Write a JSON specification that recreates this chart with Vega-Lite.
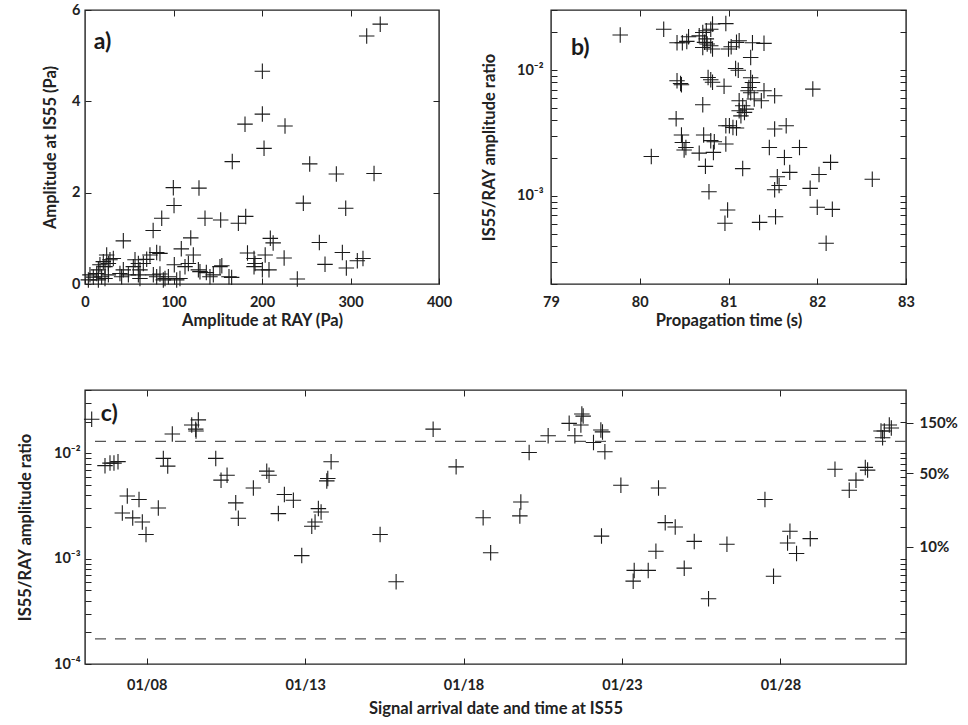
{
  "$schema": "https://vega.github.io/schema/vega-lite/v6.json",
  "background": "white",
  "padding": {"left": 16, "top": 1, "right": 4, "bottom": 2},
  "config": {
    "font": "Lato",
    "view": {"stroke": "#222", "strokeWidth": 1.4},
    "axis": {
      "grid": false, "domain": false, "tickColor": "#222", "tickSize": -6, "tickWidth": 1,
      "labelFont": "Lato", "labelFontSize": 14.5, "labelFontWeight": "bold", "labelColor": "#222",
      "labelFlush": false, "labelOverlap": false,
      "titleFont": "Lato", "titleFontSize": 16.5, "titleFontWeight": "bold", "titleColor": "#222"
    },
    "text": {"font": "Lato"}
  },
  "spacing": 51,
  "vconcat": [
    {
      "spacing": 112,
      "bounds": "flush",
      "hconcat": [
        {
          "width": 354, "height": 274,
          "data": {"values": [
            {"ray": 333.6, "is55": 5.69}, {"ray": 318.3, "is55": 5.43}, {"ray": 200.4, "is55": 4.66}, {"ray": 200.4, "is55": 3.72},
            {"ray": 180.8, "is55": 3.5}, {"ray": 226.0, "is55": 3.46}, {"ray": 202.3, "is55": 2.97}, {"ray": 166.4, "is55": 2.68},
            {"ray": 253.9, "is55": 2.63}, {"ray": 284.0, "is55": 2.41}, {"ray": 326.6, "is55": 2.42}, {"ray": 99.8, "is55": 2.11},
            {"ray": 128.8, "is55": 2.1}, {"ray": 246.7, "is55": 1.77}, {"ray": 100.6, "is55": 1.72}, {"ray": 294.6, "is55": 1.66},
            {"ray": 86.7, "is55": 1.44}, {"ray": 135.6, "is55": 1.44}, {"ray": 153.3, "is55": 1.4}, {"ray": 173.3, "is55": 1.33},
            {"ray": 181.6, "is55": 1.48}, {"ray": 77.0, "is55": 1.17}, {"ray": 119.5, "is55": 1.01}, {"ray": 43.3, "is55": 0.945},
            {"ray": 108.8, "is55": 0.77}, {"ray": 209.4, "is55": 1.0}, {"ray": 212.6, "is55": 0.9}, {"ray": 264.8, "is55": 0.91},
            {"ray": 81.0, "is55": 0.69}, {"ray": 84.7, "is55": 0.67}, {"ray": 122.4, "is55": 0.635}, {"ray": 183.6, "is55": 0.68},
            {"ray": 191.0, "is55": 0.56}, {"ray": 203.6, "is55": 0.635}, {"ray": 225.0, "is55": 0.57}, {"ray": 290.8, "is55": 0.69},
            {"ray": 307.7, "is55": 0.51}, {"ray": 314.1, "is55": 0.56}, {"ray": 271.2, "is55": 0.43}, {"ray": 192.1, "is55": 0.45},
            {"ray": 191.0, "is55": 0.38}, {"ray": 295.3, "is55": 0.35}, {"ray": 239.9, "is55": 0.11}, {"ray": 152.5, "is55": 0.38},
            {"ray": 154.6, "is55": 0.4}, {"ray": 137.1, "is55": 0.25}, {"ray": 141.2, "is55": 0.16}, {"ray": 145.0, "is55": 0.2},
            {"ray": 162.7, "is55": 0.16}, {"ray": 165.7, "is55": 0.145}, {"ray": 200.4, "is55": 0.31}, {"ray": 207.9, "is55": 0.31},
            {"ray": 100.9, "is55": 0.42}, {"ray": 113.0, "is55": 0.38}, {"ray": 116.8, "is55": 0.45}, {"ray": 128.1, "is55": 0.31},
            {"ray": 129.9, "is55": 0.27}, {"ray": 24.5, "is55": 0.635}, {"ray": 28.2, "is55": 0.53}, {"ray": 32.0, "is55": 0.56},
            {"ray": 20.7, "is55": 0.49}, {"ray": 26.4, "is55": 0.45}, {"ray": 22.6, "is55": 0.38}, {"ray": 16.9, "is55": 0.42},
            {"ray": 15.1, "is55": 0.31}, {"ray": 13.2, "is55": 0.23}, {"ray": 18.8, "is55": 0.16}, {"ray": 22.6, "is55": 0.12},
            {"ray": 15.1, "is55": 0.09}, {"ray": 26.4, "is55": 0.2}, {"ray": 5.6, "is55": 0.2}, {"ray": 9.4, "is55": 0.15},
            {"ray": 3.8, "is55": 0.09}, {"ray": 56.5, "is55": 0.53}, {"ray": 60.3, "is55": 0.45}, {"ray": 54.6, "is55": 0.38},
            {"ray": 65.9, "is55": 0.45}, {"ray": 69.7, "is55": 0.54}, {"ray": 73.4, "is55": 0.635}, {"ray": 39.5, "is55": 0.23},
            {"ray": 43.3, "is55": 0.31}, {"ray": 49.0, "is55": 0.2}, {"ray": 41.4, "is55": 0.16}, {"ray": 62.1, "is55": 0.31},
            {"ray": 60.3, "is55": 0.2}, {"ray": 62.1, "is55": 0.12}, {"ray": 77.2, "is55": 0.2}, {"ray": 81.0, "is55": 0.16},
            {"ray": 84.7, "is55": 0.22}, {"ray": 88.5, "is55": 0.09}, {"ray": 94.2, "is55": 0.16}, {"ray": 90.4, "is55": 0.12},
            {"ray": 103.6, "is55": 0.09}, {"ray": 107.3, "is55": 0.12}
          ]},
          "layer": [
            {
              "mark": {"type": "point", "shape": "M-1,0L1,0M0,-1L0,1", "size": 240, "filled": false, "stroke": "#1a1a1a", "strokeWidth": 1.1, "opacity": 1},
              "encoding": {
                "x": {"field": "ray", "type": "quantitative", "scale": {"domain": [0, 400], "nice": false, "zero": false},
                      "axis": {"title": "Amplitude at RAY (Pa)", "values": [0, 100, 200, 300, 400], "labelPadding": 17, "titlePadding": 4}},
                "y": {"field": "is55", "type": "quantitative", "scale": {"domain": [0, 6], "nice": false},
                      "axis": {"title": "Amplitude at IS55 (Pa)", "values": [0, 2, 4, 6], "labelPadding": 11, "titlePadding": 13}}
              }
            },
            {
              "mark": {"type": "point", "opacity": 0},
              "encoding": {
                "x": {"field": "ray", "type": "quantitative", "axis": {"orient": "top", "labels": false, "title": null, "values": [100, 200, 300]}},
                "y": {"field": "is55", "type": "quantitative", "axis": {"orient": "right", "labels": false, "title": null, "values": [2, 4]}}
              }
            },
            {
              "data": {"values": [{}]},
              "mark": {"type": "text", "text": "a)", "align": "left", "baseline": "middle", "fontSize": 23, "fontWeight": "bold", "color": "#1a1a1a"},
              "encoding": {
                "x": {"datum": 10, "type": "quantitative", "axis": null},
                "y": {"datum": 5.31, "type": "quantitative", "axis": null}
              }
            }
          ],
          "resolve": {"axis": {"x": "independent", "y": "independent"}}
        },
        {
          "width": 355, "height": 274,
          "data": {"values": [
            {"t": 79.78, "ratio": 0.019}, {"t": 80.27, "ratio": 0.0211}, {"t": 80.42, "ratio": 0.0165}, {"t": 80.48, "ratio": 0.0165},
            {"t": 80.53, "ratio": 0.0169}, {"t": 80.55, "ratio": 0.0184}, {"t": 80.67, "ratio": 0.0187}, {"t": 80.71, "ratio": 0.0199},
            {"t": 80.75, "ratio": 0.0205}, {"t": 80.8, "ratio": 0.0211}, {"t": 80.82, "ratio": 0.0232}, {"t": 80.73, "ratio": 0.0166},
            {"t": 80.76, "ratio": 0.0161}, {"t": 80.71, "ratio": 0.0151}, {"t": 80.8, "ratio": 0.0156}, {"t": 80.82, "ratio": 0.0147},
            {"t": 80.75, "ratio": 0.0177}, {"t": 80.97, "ratio": 0.0234}, {"t": 81.0, "ratio": 0.0147}, {"t": 81.03, "ratio": 0.0153},
            {"t": 81.09, "ratio": 0.0166}, {"t": 81.12, "ratio": 0.0171}, {"t": 81.27, "ratio": 0.0165}, {"t": 81.4, "ratio": 0.0163},
            {"t": 81.25, "ratio": 0.0126}, {"t": 81.08, "ratio": 0.0103}, {"t": 81.11, "ratio": 0.00996}, {"t": 80.42, "ratio": 0.00822},
            {"t": 80.46, "ratio": 0.00783}, {"t": 80.47, "ratio": 0.00764}, {"t": 80.77, "ratio": 0.00873}, {"t": 80.8, "ratio": 0.00838},
            {"t": 80.82, "ratio": 0.008}, {"t": 80.95, "ratio": 0.00743}, {"t": 81.25, "ratio": 0.00869}, {"t": 81.27, "ratio": 0.00797},
            {"t": 81.23, "ratio": 0.00728}, {"t": 81.22, "ratio": 0.00685}, {"t": 81.25, "ratio": 0.00661}, {"t": 81.4, "ratio": 0.00685},
            {"t": 81.52, "ratio": 0.00625}, {"t": 81.37, "ratio": 0.0057}, {"t": 81.29, "ratio": 0.00589}, {"t": 81.95, "ratio": 0.00706},
            {"t": 80.71, "ratio": 0.00531}, {"t": 81.12, "ratio": 0.0057}, {"t": 81.16, "ratio": 0.00521}, {"t": 81.12, "ratio": 0.00475},
            {"t": 81.18, "ratio": 0.00461}, {"t": 81.14, "ratio": 0.00433}, {"t": 81.2, "ratio": 0.0049}, {"t": 80.41, "ratio": 0.0041},
            {"t": 80.97, "ratio": 0.00361}, {"t": 81.01, "ratio": 0.00361}, {"t": 81.05, "ratio": 0.0035}, {"t": 81.09, "ratio": 0.00347},
            {"t": 81.52, "ratio": 0.0034}, {"t": 81.65, "ratio": 0.00361}, {"t": 80.47, "ratio": 0.00305}, {"t": 80.48, "ratio": 0.00266},
            {"t": 80.52, "ratio": 0.00243}, {"t": 80.5, "ratio": 0.00232}, {"t": 80.72, "ratio": 0.00305}, {"t": 80.8, "ratio": 0.00275},
            {"t": 80.84, "ratio": 0.0027}, {"t": 80.97, "ratio": 0.00259}, {"t": 80.83, "ratio": 0.00222}, {"t": 80.67, "ratio": 0.00219},
            {"t": 80.13, "ratio": 0.00206}, {"t": 81.46, "ratio": 0.00243}, {"t": 81.8, "ratio": 0.00243}, {"t": 81.63, "ratio": 0.00202},
            {"t": 80.74, "ratio": 0.00172}, {"t": 81.16, "ratio": 0.00165}, {"t": 81.55, "ratio": 0.00142}, {"t": 81.69, "ratio": 0.00154},
            {"t": 81.57, "ratio": 0.00121}, {"t": 81.52, "ratio": 0.00112}, {"t": 82.15, "ratio": 0.00185}, {"t": 82.02, "ratio": 0.00148},
            {"t": 81.92, "ratio": 0.00115}, {"t": 82.62, "ratio": 0.00136}, {"t": 80.78, "ratio": 0.00108}, {"t": 80.99, "ratio": 0.000774},
            {"t": 80.96, "ratio": 0.000607}, {"t": 81.35, "ratio": 0.000617}, {"t": 81.53, "ratio": 0.000685}, {"t": 82.0, "ratio": 0.000815},
            {"t": 82.17, "ratio": 0.000783}, {"t": 82.1, "ratio": 0.000421}
          ]},
          "layer": [
            {
              "mark": {"type": "point", "shape": "M-1,0L1,0M0,-1L0,1", "size": 240, "filled": false, "stroke": "#1a1a1a", "strokeWidth": 1.1, "opacity": 1},
              "encoding": {
                "x": {"field": "t", "type": "quantitative", "scale": {"domain": [79, 83], "nice": false, "zero": false},
                      "axis": {"title": "Propagation time (s)", "values": [79, 80, 81, 82, 83], "labelPadding": 17, "titlePadding": 4}},
                "y": {"field": "ratio", "type": "quantitative", "scale": {"type": "log", "domain": [0.0002, 0.03], "nice": false},
                      "axis": {"title": "IS55/RAY amplitude ratio", "titlePadding": 19, "labelPadding": 14,
                               "values": [0.0002, 0.0003, 0.0004, 0.0005, 0.0006, 0.0007, 0.0008, 0.0009, 0.001, 0.002, 0.003, 0.004, 0.005, 0.006, 0.007, 0.008, 0.009, 0.01, 0.02, 0.03],
                               "labelExpr": "datum.value === 0.01 ? '10⁻²' : datum.value === 0.001 ? '10⁻³' : ''"}}
              }
            },
            {
              "mark": {"type": "point", "opacity": 0},
              "encoding": {
                "x": {"field": "t", "type": "quantitative", "axis": {"orient": "top", "labels": false, "title": null, "values": [80, 81, 82]}},
                "y": {"field": "ratio", "type": "quantitative", "axis": {"orient": "right", "labels": false, "title": null,
                      "values": [0.0002, 0.0003, 0.0004, 0.0005, 0.0006, 0.0007, 0.0008, 0.0009, 0.001, 0.002, 0.003, 0.004, 0.005, 0.006, 0.007, 0.008, 0.009, 0.01, 0.02, 0.03]}}
              }
            },
            {
              "data": {"values": [{}]},
              "mark": {"type": "text", "text": "b)", "align": "left", "baseline": "middle", "fontSize": 23, "fontWeight": "bold", "color": "#1a1a1a"},
              "encoding": {
                "x": {"datum": 79.225, "type": "quantitative", "axis": null},
                "y": {"datum": 0.0151, "type": "quantitative", "axis": null}
              }
            }
          ],
          "resolve": {"axis": {"x": "independent", "y": "independent"}}
        }
      ]
    },
    {
      "width": 821, "height": 274,
      "data": {"values": [
        {"time": "2008-01-06T06:19", "ratio": 0.0211}, {"time": "2008-01-08T19:23", "ratio": 0.0153}, {"time": "2008-01-09T10:06", "ratio": 0.0186},
        {"time": "2008-01-09T13:08", "ratio": 0.017}, {"time": "2008-01-09T15:06", "ratio": 0.0208}, {"time": "2008-01-09T13:22", "ratio": 0.0163},
        {"time": "2008-01-06T16:24", "ratio": 0.00765}, {"time": "2008-01-06T20:11", "ratio": 0.00809}, {"time": "2008-01-06T23:12", "ratio": 0.00809},
        {"time": "2008-01-07T02:15", "ratio": 0.00835}, {"time": "2008-01-08T12:35", "ratio": 0.00896}, {"time": "2008-01-08T15:55", "ratio": 0.00757},
        {"time": "2008-01-10T04:18", "ratio": 0.00896}, {"time": "2008-01-10T08:18", "ratio": 0.00557}, {"time": "2008-01-10T12:52", "ratio": 0.00621},
        {"time": "2008-01-11T18:56", "ratio": 0.00678}, {"time": "2008-01-11T20:41", "ratio": 0.00621}, {"time": "2008-01-11T08:47", "ratio": 0.0047},
        {"time": "2008-01-12T08:17", "ratio": 0.00407}, {"time": "2008-01-12T15:06", "ratio": 0.00359}, {"time": "2008-01-13T19:41", "ratio": 0.00832},
        {"time": "2008-01-13T17:10", "ratio": 0.00578}, {"time": "2008-01-13T16:25", "ratio": 0.00548}, {"time": "2008-01-07T09:17", "ratio": 0.00394},
        {"time": "2008-01-07T18:10", "ratio": 0.00365}, {"time": "2008-01-07T05:31", "ratio": 0.00272}, {"time": "2008-01-07T13:24", "ratio": 0.00244},
        {"time": "2008-01-07T20:40", "ratio": 0.00223}, {"time": "2008-01-07T23:28", "ratio": 0.0017}, {"time": "2008-01-08T08:47", "ratio": 0.00303},
        {"time": "2008-01-10T19:26", "ratio": 0.00339}, {"time": "2008-01-10T21:24", "ratio": 0.00242}, {"time": "2008-01-12T03:43", "ratio": 0.00268},
        {"time": "2008-01-13T10:02", "ratio": 0.00299}, {"time": "2008-01-13T12:06", "ratio": 0.00278}, {"time": "2008-01-13T07:32", "ratio": 0.00223},
        {"time": "2008-01-13T05:02", "ratio": 0.00203}, {"time": "2008-01-12T21:27", "ratio": 0.00107}, {"time": "2008-01-15T08:48", "ratio": 0.0017},
        {"time": "2008-01-15T20:56", "ratio": 0.000604}, {"time": "2008-01-17T00:58", "ratio": 0.017}, {"time": "2008-01-17T18:23", "ratio": 0.00745},
        {"time": "2008-01-18T14:51", "ratio": 0.00245}, {"time": "2008-01-18T20:33", "ratio": 0.00114}, {"time": "2008-01-19T19:25", "ratio": 0.00346},
        {"time": "2008-01-19T18:40", "ratio": 0.00255}, {"time": "2008-01-20T01:42", "ratio": 0.0102}, {"time": "2008-01-20T16:06", "ratio": 0.0147},
        {"time": "2008-01-21T08:01", "ratio": 0.0193}, {"time": "2008-01-21T12:20", "ratio": 0.0147}, {"time": "2008-01-21T17:38", "ratio": 0.0237},
        {"time": "2008-01-21T18:37", "ratio": 0.0226}, {"time": "2008-01-21T16:54", "ratio": 0.0186}, {"time": "2008-01-22T02:27", "ratio": 0.0127},
        {"time": "2008-01-22T08:02", "ratio": 0.0167}, {"time": "2008-01-22T09:16", "ratio": 0.016}, {"time": "2008-01-22T11:05", "ratio": 0.01035},
        {"time": "2008-01-22T08:31", "ratio": 0.00164}, {"time": "2008-01-22T23:12", "ratio": 0.00499}, {"time": "2008-01-23T09:17", "ratio": 0.000774},
        {"time": "2008-01-23T08:31", "ratio": 0.000612}, {"time": "2008-01-24T03:42", "ratio": 0.0047}, {"time": "2008-01-24T08:47", "ratio": 0.0022},
        {"time": "2008-01-24T16:21", "ratio": 0.002}, {"time": "2008-01-24T01:44", "ratio": 0.001175}, {"time": "2008-01-23T19:54", "ratio": 0.000774},
        {"time": "2008-01-24T23:11", "ratio": 0.000813}, {"time": "2008-01-25T06:46", "ratio": 0.00146}, {"time": "2008-01-25T17:36", "ratio": 0.000416},
        {"time": "2008-01-26T07:32", "ratio": 0.00137}, {"time": "2008-01-27T12:20", "ratio": 0.00365}, {"time": "2008-01-27T18:50", "ratio": 0.000682},
        {"time": "2008-01-28T07:16", "ratio": 0.00182}, {"time": "2008-01-28T05:27", "ratio": 0.00141}, {"time": "2008-01-28T12:16", "ratio": 0.00112},
        {"time": "2008-01-28T22:39", "ratio": 0.00155}, {"time": "2008-01-29T17:23", "ratio": 0.00708}, {"time": "2008-01-30T04:12", "ratio": 0.00447},
        {"time": "2008-01-30T09:17", "ratio": 0.00557}, {"time": "2008-01-30T16:21", "ratio": 0.00736}, {"time": "2008-01-30T18:06", "ratio": 0.00694},
        {"time": "2008-01-31T04:15", "ratio": 0.0163}, {"time": "2008-01-31T06:45", "ratio": 0.0163}, {"time": "2008-01-31T05:27", "ratio": 0.0141},
        {"time": "2008-01-31T10:32", "ratio": 0.0186}, {"time": "2008-01-31T12:03", "ratio": 0.0174}
      ]},
      "layer": [
        {
          "data": {"values": [{}]},
          "mark": {"type": "rule", "strokeDash": [11, 9], "color": "#555", "strokeWidth": 1.3},
          "encoding": {"y": {"datum": 0.013, "type": "quantitative", "axis": null}}
        },
        {
          "data": {"values": [{}]},
          "mark": {"type": "rule", "strokeDash": [11, 9], "color": "#555", "strokeWidth": 1.3},
          "encoding": {"y": {"datum": 0.000173, "type": "quantitative", "axis": null}}
        },
        {
          "mark": {"type": "point", "shape": "M-1,0L1,0M0,-1L0,1", "size": 240, "filled": false, "stroke": "#1a1a1a", "strokeWidth": 1.1, "opacity": 1},
          "encoding": {
            "x": {"field": "time", "type": "temporal",
                  "scale": {"domain": [{"year": 2008, "month": 1, "date": 6, "hours": 1, "minutes": 15}, {"year": 2008, "month": 1, "date": 31, "hours": 23, "minutes": 11}], "nice": false},
                  "axis": {"title": "Signal arrival date and time at IS55", "format": "%m/%d", "labelPadding": 20, "titlePadding": 9,
                           "values": [{"year": 2008, "month": 1, "date": 8}, {"year": 2008, "month": 1, "date": 13}, {"year": 2008, "month": 1, "date": 18}, {"year": 2008, "month": 1, "date": 23}, {"year": 2008, "month": 1, "date": 28}]}},
            "y": {"field": "ratio", "type": "quantitative", "scale": {"type": "log", "domain": [0.0001, 0.04], "nice": false},
                  "axis": {"title": "IS55/RAY amplitude ratio", "titlePadding": 20, "labelPadding": 11,
                           "values": [0.0001, 0.0002, 0.0003, 0.0004, 0.0005, 0.0006, 0.0007, 0.0008, 0.0009, 0.001, 0.002, 0.003, 0.004, 0.005, 0.006, 0.007, 0.008, 0.009, 0.01, 0.02, 0.03, 0.04],
                           "labelExpr": "datum.value === 0.01 ? '10⁻²' : datum.value === 0.001 ? '10⁻³' : datum.value === 0.0001 ? '10⁻⁴' : ''"}}
          }
        },
        {
          "mark": {"type": "point", "opacity": 0},
          "encoding": {
            "x": {"field": "time", "type": "temporal", "axis": {"orient": "top", "labels": false, "title": null,
                  "values": [{"year": 2008, "month": 1, "date": 8}, {"year": 2008, "month": 1, "date": 13}, {"year": 2008, "month": 1, "date": 18}, {"year": 2008, "month": 1, "date": 23}, {"year": 2008, "month": 1, "date": 28}]}},
            "y": {"field": "ratio", "type": "quantitative", "axis": {"orient": "right", "labels": false, "title": null,
                  "values": [0.0002, 0.0003, 0.0004, 0.0005, 0.0006, 0.0007, 0.0008, 0.0009, 0.001, 0.002, 0.003, 0.004, 0.005, 0.006, 0.007, 0.008, 0.009, 0.01, 0.02, 0.03]}}
          }
        },
        {
          "mark": {"type": "point", "opacity": 0},
          "encoding": {
            "x": {"field": "time", "type": "temporal", "axis": null},
            "y": {"field": "ratio", "type": "quantitative", "axis": {"orient": "right", "title": null, "tickSize": 7, "labelPadding": 6, "labelFontSize": 15,
                  "values": [0.0013, 0.0065, 0.0195],
                  "labelExpr": "datum.value === 0.0013 ? '10%' : datum.value === 0.0065 ? '50%' : '150%'"}}
          }
        },
        {
          "data": {"values": [{}]},
          "mark": {"type": "text", "text": "c)", "align": "left", "baseline": "middle", "fontSize": 23, "fontWeight": "bold", "color": "#1a1a1a"},
          "encoding": {
            "x": {"datum": {"year": 2008, "month": 1, "date": 6, "hours": 13, "minutes": 9}, "type": "temporal", "axis": null},
            "y": {"datum": 0.0235, "type": "quantitative", "axis": null}
          }
        }
      ],
      "resolve": {"axis": {"x": "independent", "y": "independent"}}
    }
  ]
}
